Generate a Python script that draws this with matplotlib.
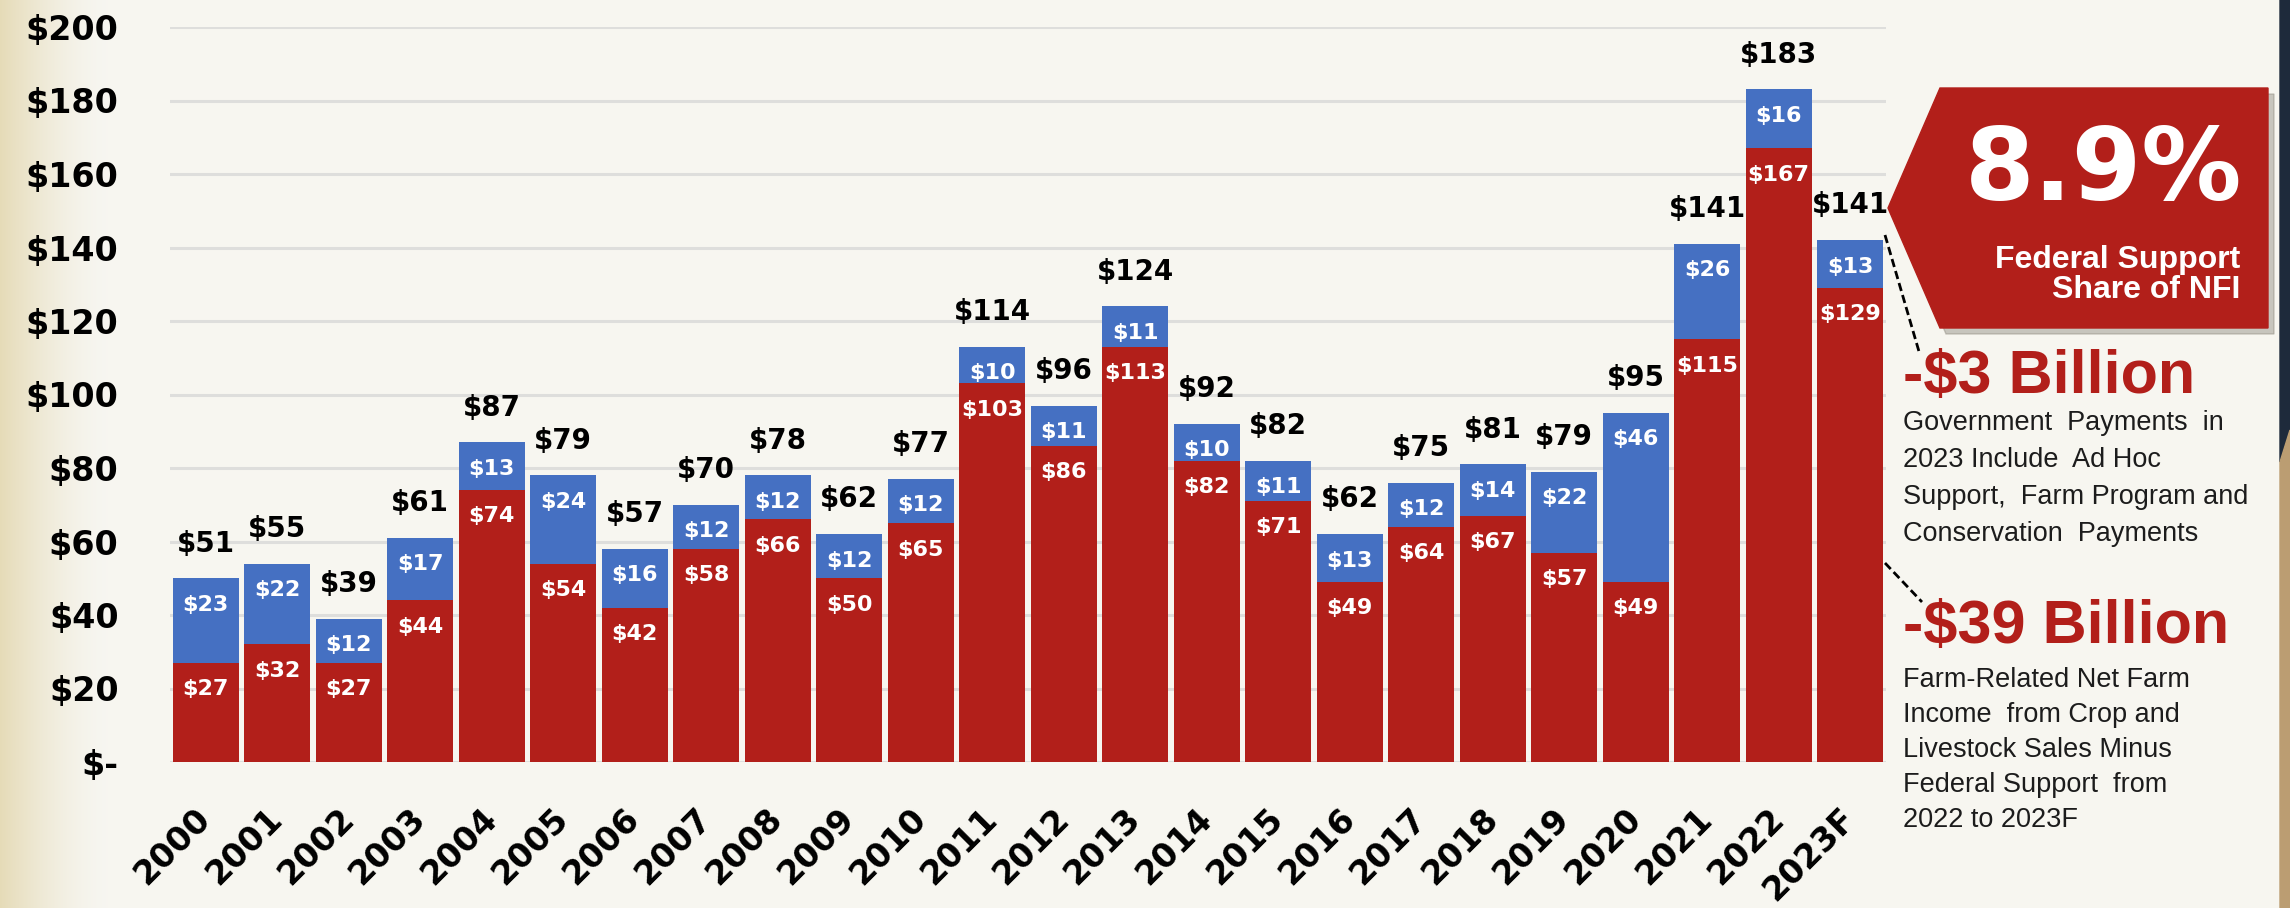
import numpy as np
import matplotlib.pyplot as plt
from matplotlib.patches import Polygon
from matplotlib.lines import Line2D

# data (billions of dollars)
years = ['2000', '2001', '2002', '2003', '2004', '2005', '2006', '2007', '2008', '2009',
         '2010', '2011', '2012', '2013', '2014', '2015', '2016', '2017', '2018', '2019',
         '2020', '2021', '2022', '2023F']
farm_income = [27, 32, 27, 44, 74, 54, 42, 58, 66, 50, 65, 103, 86, 113, 82, 71, 49, 64, 67, 57, 49, 115, 167, 129]
gov_payments = [23, 22, 12, 17, 13, 24, 16, 12, 12, 12, 12, 10, 11, 11, 10, 11, 13, 12, 14, 22, 46, 26, 16, 13]
totals = [51, 55, 39, 61, 87, 79, 57, 70, 78, 62, 77, 114, 96, 124, 92, 82, 62, 75, 81, 79, 95, 141, 183, 141]
y_ticks = [0, 20, 40, 60, 80, 100, 120, 140, 160, 180, 200]
y_labels = ['$-'] + ['$' + str(v) for v in y_ticks[1:]]

note1 = ['Government  Payments  in', '2023 Include  Ad Hoc',
         'Support,  Farm Program and', 'Conservation  Payments']
note2 = ['Farm-Related Net Farm', 'Income  from Crop and',
         'Livestock Sales Minus', 'Federal Support  from', '2022 to 2023F']

RED = '#B21F1A'
BLUE = '#4570C2'
W, H = 2290, 908


def px(x, y):
    # pixel position -> figure fraction
    return x / W, 1 - y / H


fig = plt.figure(figsize=(W / 100, H / 100), dpi=100, facecolor='#F7F6F1')

# background with a beige edge on the left
bg = fig.add_axes([0, 0, 1, 1], zorder=-10)
bg.axis('off')
xx = np.arange(W)
t = np.clip(1 - xx / 110, 0, 1) ** 1.6
base = np.array([0.969, 0.965, 0.945])
beige = np.array([0.90, 0.86, 0.72])
row = base[None, :] * (1 - t[:, None]) + beige[None, :] * t[:, None]
img = np.repeat(row[None, :, :], 10, axis=0)
bg.imshow(img, aspect='auto', extent=[0, 1, 0, 1])
bg.set_xlim(0, 1)
bg.set_ylim(0, 1)
bg.add_patch(Polygon([(2280 / W, 1), (1, 1), (1, 1 - 430 / H), (2280 / W, 1 - 462 / H)],
                     closed=True, color='#1E2A3B', transform=bg.transAxes))
bg.add_patch(Polygon([(2280 / W, 1 - 462 / H), (1, 1 - 430 / H), (1, 0), (2280 / W, 0)],
                     closed=True, color='#BB9D72', transform=bg.transAxes))

ax = fig.add_axes([170 / W, 1 - 762 / H, (1886 - 170) / W, (762 - 27) / H])
ax.set_facecolor('none')

x = np.arange(len(years))
tops = [a + b for a, b in zip(farm_income, gov_payments)]
ax.bar(x, farm_income, width=0.92, color=RED, zorder=3)
ax.bar(x, gov_payments, bottom=farm_income, width=0.92, color=BLUE, zorder=3)

for i in range(len(years)):
    ax.annotate('$' + str(farm_income[i]), (i, farm_income[i]), xytext=(0, -19),
                textcoords='offset points', ha='center', va='center', color='white',
                fontsize=16, fontweight='bold', zorder=4)
    ax.annotate('$' + str(gov_payments[i]), (i, tops[i]), xytext=(0, -19),
                textcoords='offset points', ha='center', va='center', color='white',
                fontsize=16, fontweight='bold', zorder=4)
    ax.annotate('$' + str(totals[i]), (i, tops[i]), xytext=(0, 25),
                textcoords='offset points', ha='center', va='center', color='black',
                fontsize=20, fontweight='bold', zorder=4)

ax.set_xlim(-0.5, 23.5)
ax.set_ylim(0, 200)
ax.set_yticks(y_ticks)
ax.set_yticklabels(y_labels, fontsize=24, fontweight='bold')
ax.set_xticks(x)
ax.set_xticklabels(years, fontsize=24, fontweight='bold', rotation=45,
                   ha='right', va='center', rotation_mode='anchor')
ax.tick_params(axis='y', length=0, pad=37)
ax.tick_params(axis='x', length=0, pad=37)
ax.yaxis.grid(True, color='#DEDEDC', lw=2.2)
ax.set_axisbelow(True)
for s in ax.spines.values():
    s.set_visible(False)

# red callout box
box = [(1888, 208), (1940, 88), (2268, 88), (2268, 328), (1940, 328)]
shadow = [px(a + 6, b + 6) for a, b in box]
fig.add_artist(Polygon(shadow, closed=True, color='#8E8A80', alpha=0.45,
                       transform=fig.transFigure, zorder=5))
fig.add_artist(Polygon([px(a, b) for a, b in box], closed=True, color=RED,
                       transform=fig.transFigure, zorder=6))
fig.text(*px(2104, 200), '8.9%', color='white', fontsize=72, fontweight='bold',
         ha='center', va='baseline', zorder=7)
fig.text(*px(2240, 268), 'Federal Support', color='white', fontsize=23, fontweight='bold',
         family='Liberation Sans', ha='right', va='baseline', zorder=7)
fig.text(*px(2240, 298), 'Share of NFI', color='white', fontsize=23, fontweight='bold',
         family='Liberation Sans', ha='right', va='baseline', zorder=7)

# notes
fig.text(*px(1903, 393), '-$3 Billion', color=RED, fontsize=44, fontweight='bold',
         family='Liberation Sans', ha='left', va='baseline')
for k, line in enumerate(note1):
    fig.text(*px(1903, 430 + 37 * k), line, color='#1C1C1C', fontsize=19.5,
             family='Liberation Sans', ha='left', va='baseline')
fig.text(*px(1903, 643), '-$39 Billion', color=RED, fontsize=44, fontweight='bold',
         family='Liberation Sans', ha='left', va='baseline')
for k, line in enumerate(note2):
    fig.text(*px(1903, 687 + 35 * k), line, color='#1C1C1C', fontsize=19.5,
             family='Liberation Sans', ha='left', va='baseline')

# dashed leader lines
for (x0, y0), (x1, y1) in [((1885, 235), (1920, 355)), ((1885, 563), (1922, 602))]:
    a, b = px(x0, y0)
    c, d = px(x1, y1)
    fig.add_artist(Line2D([a, c], [b, d], color='black', lw=2,
                          linestyle=(0, (3, 1.5)), transform=fig.transFigure, zorder=8))

fig.savefig('out.png', dpi=100, facecolor=fig.get_facecolor())
